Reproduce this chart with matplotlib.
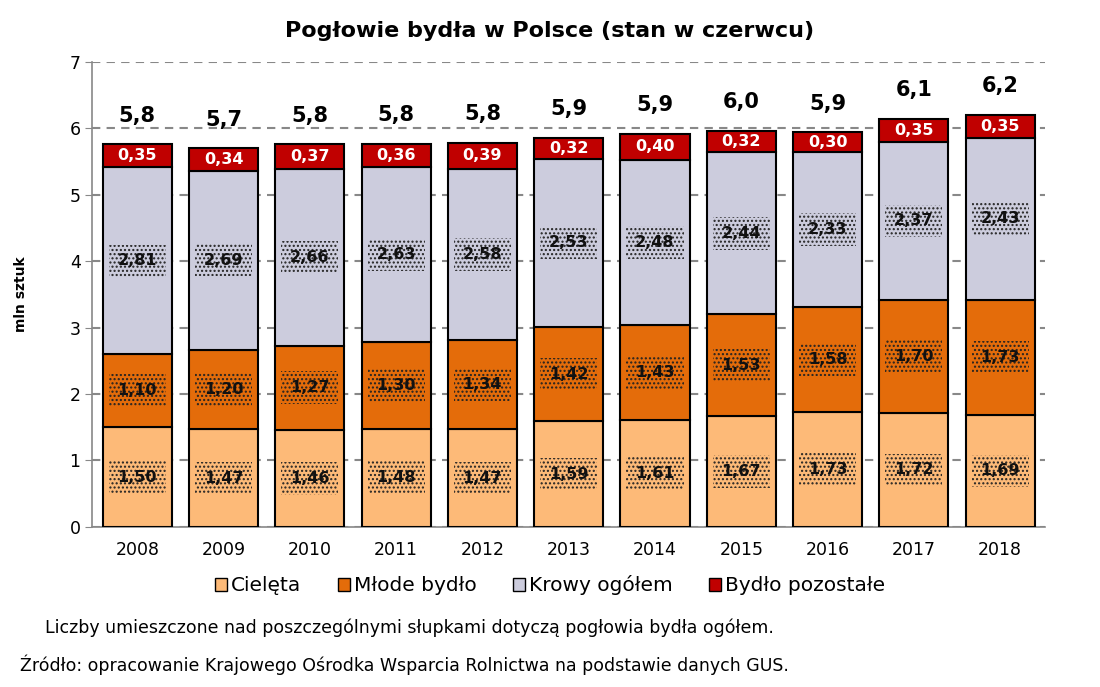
import numpy as np
import matplotlib.pyplot as plt
from matplotlib.patches import Patch

years = ["2008", "2009", "2010", "2011", "2012", "2013", "2014", "2015", "2016", "2017", "2018"]
cieleta = [1.50, 1.47, 1.46, 1.48, 1.47, 1.59, 1.61, 1.67, 1.73, 1.72, 1.69]
mlode = [1.10, 1.20, 1.27, 1.30, 1.34, 1.42, 1.43, 1.53, 1.58, 1.70, 1.73]
krowy = [2.81, 2.69, 2.66, 2.63, 2.58, 2.53, 2.48, 2.44, 2.33, 2.37, 2.43]
pozostale = [0.35, 0.34, 0.37, 0.36, 0.39, 0.32, 0.40, 0.32, 0.30, 0.35, 0.35]
totals = [5.8, 5.7, 5.8, 5.8, 5.8, 5.9, 5.9, 6.0, 5.9, 6.1, 6.2]

series = [
    ("Cielęta", cieleta, "#FDBA78"),
    ("Młode bydło", mlode, "#E46C0A"),
    ("Krowy ogółem", krowy, "#CCCCDD"),
    ("Bydło pozostałe", pozostale, "#C00000"),
]

fig = plt.figure(figsize=(11, 6.87), dpi=100)
ax = fig.add_axes([0.084, 0.233, 0.866, 0.677])

x = np.arange(len(years))
bottom = np.zeros(len(years))
for name, vals, col in series:
    vals = np.array(vals)
    ax.bar(x, vals, 0.8, bottom=bottom, color=col, edgecolor="black", linewidth=1.5, zorder=3)
    for xi, b, v in zip(x, bottom, vals):
        txt = f"{v:.2f}".replace(".", ",")
        if name == "Bydło pozostałe":
            ax.text(xi, b + v / 2, txt, ha="center", va="center", fontsize=11.5,
                    fontweight="bold", color="white", zorder=5)
        else:
            ax.text(xi, b + v / 2, txt, ha="center", va="center", fontsize=11.5,
                    fontweight="bold", color="#111111", zorder=5,
                    bbox=dict(boxstyle="square,pad=0.55", facecolor="none",
                              edgecolor="#222222", linewidth=0, hatch="...."))
    bottom += vals

for xi, t, b in zip(x, totals, bottom):
    ax.text(xi, b + 0.28, f"{t:.1f}".replace(".", ","), ha="center", va="bottom",
            fontsize=15, fontweight="bold", color="black", zorder=5)

ax.set_xlim(-0.52, 10.52)
ax.set_ylim(0, 7)
ax.set_yticks(range(0, 8))
ax.set_xticks(x)
ax.set_xticklabels(years)
ax.tick_params(axis="both", labelsize=12.5, length=5, color="#888888")
ax.tick_params(axis="x", length=0, pad=10)
ax.yaxis.grid(True, linestyle=(0, (4, 3)), color="#888888", linewidth=1.5, zorder=0)
for s in ["top", "right"]:
    ax.spines[s].set_visible(False)
ax.spines["left"].set_color("#888888")
ax.spines["bottom"].set_color("#888888")
ax.spines["left"].set_linewidth(1.2)
ax.spines["bottom"].set_linewidth(1.2)

ax.set_ylabel("mln sztuk", fontsize=10, fontweight="bold", labelpad=30)

fig.text(0.5, 0.955, "Pogłowie bydła w Polsce (stan w czerwcu)", ha="center", va="center",
         fontsize=16, fontweight="bold")

handles = [Patch(facecolor=c, edgecolor="black", linewidth=1, label=n) for n, _, c in series]
fig.legend(handles=handles, loc="center", bbox_to_anchor=(0.5, 0.148), ncol=4, frameon=False,
           fontsize=14.5, handlelength=0.6, handleheight=0.6, handletextpad=0.2, columnspacing=1.8)

fig.text(0.041, 0.086, "Liczby umieszczone nad poszczególnymi słupkami dotyczą pogłowia bydła ogółem.",
         fontsize=12.5, va="center")
fig.text(0.018, 0.032, "Źródło: opracowanie Krajowego Ośrodka Wsparcia Rolnictwa na podstawie danych GUS.",
         fontsize=12.5, va="center")

fig.savefig("out.png", dpi=100)
